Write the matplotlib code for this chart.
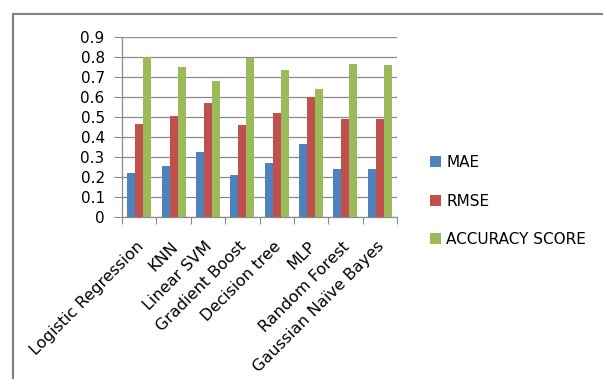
import numpy as np
import matplotlib
matplotlib.use("Agg")
import matplotlib.pyplot as plt
from matplotlib.lines import Line2D
from matplotlib.ticker import FixedLocator

plt.rcParams['font.family'] = ['DejaVu Sans']

models = ["Logistic Regression", "KNN", "Linear SVM", "Gradient Boost",
          "Decision tree", "MLP", "Random Forest", "Gaussian Naïve Bayes"]
mae = [0.217, 0.253, 0.322, 0.208, 0.267, 0.362, 0.238, 0.238]
rmse = [0.463, 0.503, 0.567, 0.458, 0.517, 0.600, 0.488, 0.488]
accuracy = [0.800, 0.748, 0.680, 0.793, 0.733, 0.640, 0.763, 0.758]

series = [("MAE", mae, "#4F81BD"),
          ("RMSE", rmse, "#C0504D"),
          ("ACCURACY SCORE", accuracy, "#9BBB59")]

fig = plt.figure(figsize=(6.03, 3.79), dpi=100)
ax = fig.add_axes([122/603, 1-216.7/379, 275/603, 180/379])

# outer chart frame (top and left edges only show)
fig.add_artist(Line2D([13/603, 1.0], [1-14/379, 1-14/379], transform=fig.transFigure,
                      color="#808080", lw=1.5))
fig.add_artist(Line2D([13/603, 13/603], [0, 1-14/379], transform=fig.transFigure,
                      color="#808080", lw=1.5))

x = np.arange(len(models)) + 0.5
w = 0.233
for k, (name, vals, col) in enumerate(series):
    ax.bar(x + (k-1)*w, vals, width=w, color=col, label=name, zorder=3)

ax.set_xlim(0, len(models))
ax.set_ylim(0, 0.9)
ax.set_yticks(np.arange(0, 0.91, 0.1))
ax.set_yticklabels(["0"] + ["%.1f" % v for v in np.arange(0.1, 0.91, 0.1)], fontsize=11)
ax.yaxis.grid(True, color="#8a8a8a", lw=0.9, zorder=0)

ax.xaxis.set_major_locator(FixedLocator(np.arange(len(models)+1)))
ax.xaxis.set_minor_locator(FixedLocator(x - 0.1))
ax.set_xticklabels([], minor=False)
ax.set_xticklabels(models, minor=True, rotation=45, ha='right',
                   rotation_mode='anchor', fontsize=11.5)
ax.tick_params(axis='x', which='major', length=5, color="#8a8a8a")
ax.tick_params(axis='x', which='minor', length=0, pad=16)
ax.tick_params(axis='y', length=5.5, color="#8a8a8a", pad=7)

for s in ['top', 'right']:
    ax.spines[s].set_visible(False)
for s in ['left', 'bottom']:
    ax.spines[s].set_color("#8a8a8a")
    ax.spines[s].set_linewidth(0.9)

ax.legend(loc='center left', bbox_to_anchor=(430/603, 1-201/379),
          bbox_transform=fig.transFigure, frameon=False, fontsize=11,
          handlelength=0.72, handleheight=0.7, handletextpad=0.35,
          labelspacing=1.55, borderaxespad=0, borderpad=0)

fig.savefig("out.png", dpi=100)
